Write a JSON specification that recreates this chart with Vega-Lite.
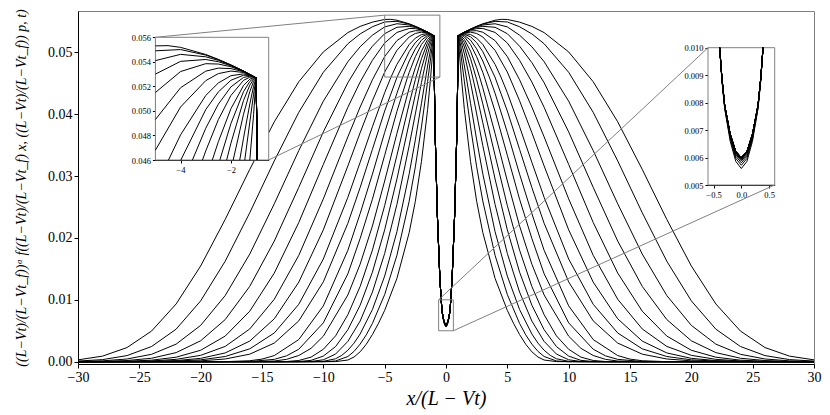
{
"$schema": "https://vega.github.io/schema/vega-lite/v6.json",
"width": 736, "height": 353,
"autosize": {"type": "none"},
"padding": {"left": 78, "top": 11, "right": 16, "bottom": 51},
"background": "white",
"config": {
 "font": "Liberation Serif",
 "view": {"stroke": "#808080", "strokeWidth": 1},
 "axis": {"grid": false, "domainColor": "black", "tickColor": "black", "labelColor": "black", "titleColor": "black", "labelFont": "Liberation Serif", "titleFont": "Liberation Serif", "tickSize": 4, "labelPadding": 2, "zindex": 1, "labelFlush": false, "labelOverlap": false, "domainWidth": 1, "tickWidth": 1}
},
"datasets": {
 "curves": [
{"c":1,"x":0,"y":0.0056},{"c":1,"x":-0.1,"y":0.00586},{"c":1,"x":0.1,"y":0.00586},{"c":1,"x":-0.2,"y":0.00659},{"c":1,"x":0.2,"y":0.00659},{"c":1,"x":-0.3,"y":0.00778},{"c":1,"x":0.3,"y":0.00778},{"c":1,"x":-0.35,"y":0.0088},{"c":1,"x":0.35,"y":0.0088},{"c":1,"x":-0.39,"y":0.01},{"c":1,"x":0.39,"y":0.01},{"c":1,"x":-0.5,"y":0.0135},{"c":1,"x":0.5,"y":0.0135},{"c":1,"x":-0.7,"y":0.0235},{"c":1,"x":0.7,"y":0.0235},{"c":1,"x":-0.9,"y":0.038},{"c":1,"x":0.9,"y":0.038},{"c":1,"x":-0.954,"y":0.046},{"c":1,"x":0.954,"y":0.046},{"c":1,"x":-1,"y":0.0527},{"c":1,"x":1,"y":0.0527},{"c":1,"x":-1.5,"y":0.05325},{"c":1,"x":1.5,"y":0.05325},{"c":1,"x":-2,"y":0.05375},{"c":1,"x":2,"y":0.05375},{"c":1,"x":-2.5,"y":0.0542},{"c":1,"x":2.5,"y":0.0542},{"c":1,"x":-3,"y":0.0546},{"c":1,"x":3,"y":0.0546},{"c":1,"x":-4,"y":0.05518},{"c":1,"x":4,"y":0.05518},{"c":1,"x":-4.5,"y":0.05532},{"c":1,"x":4.5,"y":0.05532},{"c":1,"x":-5,"y":0.0553},{"c":1,"x":5,"y":0.0553},{"c":1,"x":-6,"y":0.05487},{"c":1,"x":6,"y":0.05487},{"c":1,"x":-7,"y":0.05418},{"c":1,"x":7,"y":0.05418},{"c":1,"x":-8,"y":0.05318},{"c":1,"x":8,"y":0.05318},{"c":1,"x":-10,"y":0.05006},{"c":1,"x":10,"y":0.05006},{"c":1,"x":-12,"y":0.04524},{"c":1,"x":12,"y":0.04524},{"c":1,"x":-14,"y":0.03876},{"c":1,"x":14,"y":0.03876},{"c":1,"x":-16,"y":0.03107},{"c":1,"x":16,"y":0.03107},{"c":1,"x":-18,"y":0.02299},{"c":1,"x":18,"y":0.02299},{"c":1,"x":-20,"y":0.01547},{"c":1,"x":20,"y":0.01547},{"c":1,"x":-22,"y":0.00933},{"c":1,"x":22,"y":0.00933},{"c":1,"x":-24,"y":0.00496},{"c":1,"x":24,"y":0.00496},{"c":1,"x":-26,"y":0.00229},{"c":1,"x":26,"y":0.00229},{"c":1,"x":-28,"y":0.0009},{"c":1,"x":28,"y":0.0009},{"c":1,"x":-30,"y":0.0003},{"c":1,"x":30,"y":0.0003},
{"c":2,"x":0,"y":0.00572},{"c":2,"x":-0.1,"y":0.00597},{"c":2,"x":0.1,"y":0.00597},{"c":2,"x":-0.2,"y":0.00667},{"c":2,"x":0.2,"y":0.00667},{"c":2,"x":-0.3,"y":0.00782},{"c":2,"x":0.3,"y":0.00782},{"c":2,"x":-0.35,"y":0.00885},{"c":2,"x":0.35,"y":0.00885},{"c":2,"x":-0.39,"y":0.01},{"c":2,"x":0.39,"y":0.01},{"c":2,"x":-0.5,"y":0.0135},{"c":2,"x":0.5,"y":0.0135},{"c":2,"x":-0.7,"y":0.0235},{"c":2,"x":0.7,"y":0.0235},{"c":2,"x":-0.9,"y":0.038},{"c":2,"x":0.9,"y":0.038},{"c":2,"x":-0.954,"y":0.046},{"c":2,"x":0.954,"y":0.046},{"c":2,"x":-1,"y":0.0527},{"c":2,"x":1,"y":0.0527},{"c":2,"x":-1.5,"y":0.05325},{"c":2,"x":1.5,"y":0.05325},{"c":2,"x":-2,"y":0.05374},{"c":2,"x":2,"y":0.05374},{"c":2,"x":-2.5,"y":0.05418},{"c":2,"x":2.5,"y":0.05418},{"c":2,"x":-3,"y":0.05455},{"c":2,"x":3,"y":0.05455},{"c":2,"x":-4,"y":0.055},{"c":2,"x":4,"y":0.055},{"c":2,"x":-5,"y":0.0549},{"c":2,"x":5,"y":0.0549},{"c":2,"x":-6,"y":0.05412},{"c":2,"x":6,"y":0.05412},{"c":2,"x":-7,"y":0.05297},{"c":2,"x":7,"y":0.05297},{"c":2,"x":-8,"y":0.05138},{"c":2,"x":8,"y":0.05138},{"c":2,"x":-10,"y":0.04677},{"c":2,"x":10,"y":0.04677},{"c":2,"x":-12,"y":0.0403},{"c":2,"x":12,"y":0.0403},{"c":2,"x":-14,"y":0.03244},{"c":2,"x":14,"y":0.03244},{"c":2,"x":-16,"y":0.02406},{"c":2,"x":16,"y":0.02406},{"c":2,"x":-18,"y":0.01624},{"c":2,"x":18,"y":0.01624},{"c":2,"x":-20,"y":0.00983},{"c":2,"x":20,"y":0.00983},{"c":2,"x":-22,"y":0.00526},{"c":2,"x":22,"y":0.00526},{"c":2,"x":-24,"y":0.00246},{"c":2,"x":24,"y":0.00246},{"c":2,"x":-26,"y":0.00099},{"c":2,"x":26,"y":0.00099},{"c":2,"x":-28,"y":0.00034},{"c":2,"x":28,"y":0.00034},{"c":2,"x":-30,"y":0.0001},{"c":2,"x":30,"y":0.0001},
{"c":3,"x":0,"y":0.00581},{"c":3,"x":-0.1,"y":0.00605},{"c":3,"x":0.1,"y":0.00605},{"c":3,"x":-0.2,"y":0.00673},{"c":3,"x":0.2,"y":0.00673},{"c":3,"x":-0.3,"y":0.00784},{"c":3,"x":0.3,"y":0.00784},{"c":3,"x":-0.35,"y":0.00887},{"c":3,"x":0.35,"y":0.00887},{"c":3,"x":-0.39,"y":0.01},{"c":3,"x":0.39,"y":0.01},{"c":3,"x":-0.5,"y":0.0135},{"c":3,"x":0.5,"y":0.0135},{"c":3,"x":-0.7,"y":0.0235},{"c":3,"x":0.7,"y":0.0235},{"c":3,"x":-0.9,"y":0.038},{"c":3,"x":0.9,"y":0.038},{"c":3,"x":-0.954,"y":0.046},{"c":3,"x":0.954,"y":0.046},{"c":3,"x":-1,"y":0.0527},{"c":3,"x":1,"y":0.0527},{"c":3,"x":-1.5,"y":0.05325},{"c":3,"x":1.5,"y":0.05325},{"c":3,"x":-2,"y":0.05372},{"c":3,"x":2,"y":0.05372},{"c":3,"x":-2.5,"y":0.05412},{"c":3,"x":2.5,"y":0.05412},{"c":3,"x":-3,"y":0.05441},{"c":3,"x":3,"y":0.05441},{"c":3,"x":-4,"y":0.05461},{"c":3,"x":4,"y":0.05461},{"c":3,"x":-5,"y":0.0541},{"c":3,"x":5,"y":0.0541},{"c":3,"x":-6,"y":0.05276},{"c":3,"x":6,"y":0.05276},{"c":3,"x":-7,"y":0.05089},{"c":3,"x":7,"y":0.05089},{"c":3,"x":-8,"y":0.04848},{"c":3,"x":8,"y":0.04848},{"c":3,"x":-10,"y":0.0421},{"c":3,"x":10,"y":0.0421},{"c":3,"x":-12,"y":0.03412},{"c":3,"x":12,"y":0.03412},{"c":3,"x":-14,"y":0.02551},{"c":3,"x":14,"y":0.02551},{"c":3,"x":-16,"y":0.01739},{"c":3,"x":16,"y":0.01739},{"c":3,"x":-18,"y":0.01069},{"c":3,"x":18,"y":0.01069},{"c":3,"x":-20,"y":0.00587},{"c":3,"x":20,"y":0.00587},{"c":3,"x":-22,"y":0.00284},{"c":3,"x":22,"y":0.00284},{"c":3,"x":-24,"y":0.0012},{"c":3,"x":24,"y":0.0012},{"c":3,"x":-26,"y":0.00044},{"c":3,"x":26,"y":0.00044},{"c":3,"x":-28,"y":0.00014},{"c":3,"x":28,"y":0.00014},{"c":3,"x":-30,"y":0.00004},{"c":3,"x":30,"y":0.00004},
{"c":4,"x":0,"y":0.00588},{"c":4,"x":-0.1,"y":0.00611},{"c":4,"x":0.1,"y":0.00611},{"c":4,"x":-0.2,"y":0.00677},{"c":4,"x":0.2,"y":0.00677},{"c":4,"x":-0.3,"y":0.00786},{"c":4,"x":0.3,"y":0.00786},{"c":4,"x":-0.35,"y":0.00888},{"c":4,"x":0.35,"y":0.00888},{"c":4,"x":-0.39,"y":0.01},{"c":4,"x":0.39,"y":0.01},{"c":4,"x":-0.5,"y":0.0135},{"c":4,"x":0.5,"y":0.0135},{"c":4,"x":-0.7,"y":0.0235},{"c":4,"x":0.7,"y":0.0235},{"c":4,"x":-0.9,"y":0.038},{"c":4,"x":0.9,"y":0.038},{"c":4,"x":-0.954,"y":0.046},{"c":4,"x":0.954,"y":0.046},{"c":4,"x":-1,"y":0.0527},{"c":4,"x":1,"y":0.0527},{"c":4,"x":-1.5,"y":0.05324},{"c":4,"x":1.5,"y":0.05324},{"c":4,"x":-2,"y":0.05368},{"c":4,"x":2,"y":0.05368},{"c":4,"x":-2.5,"y":0.05401},{"c":4,"x":2.5,"y":0.05401},{"c":4,"x":-3,"y":0.05419},{"c":4,"x":3,"y":0.05419},{"c":4,"x":-4,"y":0.05404},{"c":4,"x":4,"y":0.05404},{"c":4,"x":-5,"y":0.053},{"c":4,"x":5,"y":0.053},{"c":4,"x":-6,"y":0.05098},{"c":4,"x":6,"y":0.05098},{"c":4,"x":-7,"y":0.04833},{"c":4,"x":7,"y":0.04833},{"c":4,"x":-8,"y":0.04508},{"c":4,"x":8,"y":0.04508},{"c":4,"x":-10,"y":0.03714},{"c":4,"x":10,"y":0.03714},{"c":4,"x":-12,"y":0.02818},{"c":4,"x":12,"y":0.02818},{"c":4,"x":-14,"y":0.01949},{"c":4,"x":14,"y":0.01949},{"c":4,"x":-16,"y":0.01217},{"c":4,"x":16,"y":0.01217},{"c":4,"x":-18,"y":0.00681},{"c":4,"x":18,"y":0.00681},{"c":4,"x":-20,"y":0.00338},{"c":4,"x":20,"y":0.00338},{"c":4,"x":-22,"y":0.00147},{"c":4,"x":22,"y":0.00147},{"c":4,"x":-24,"y":0.00056},{"c":4,"x":24,"y":0.00056},{"c":4,"x":-26,"y":0.00019},{"c":4,"x":26,"y":0.00019},{"c":4,"x":-28,"y":0.00005},{"c":4,"x":28,"y":0.00005},{"c":4,"x":-30,"y":0.00001},{"c":4,"x":30,"y":0.00001},
{"c":5,"x":0,"y":0.00592},{"c":5,"x":-0.1,"y":0.00615},{"c":5,"x":0.1,"y":0.00615},{"c":5,"x":-0.2,"y":0.0068},{"c":5,"x":0.2,"y":0.0068},{"c":5,"x":-0.3,"y":0.00788},{"c":5,"x":0.3,"y":0.00788},{"c":5,"x":-0.35,"y":0.00889},{"c":5,"x":0.35,"y":0.00889},{"c":5,"x":-0.39,"y":0.01},{"c":5,"x":0.39,"y":0.01},{"c":5,"x":-0.5,"y":0.0135},{"c":5,"x":0.5,"y":0.0135},{"c":5,"x":-0.7,"y":0.0235},{"c":5,"x":0.7,"y":0.0235},{"c":5,"x":-0.9,"y":0.038},{"c":5,"x":0.9,"y":0.038},{"c":5,"x":-0.954,"y":0.046},{"c":5,"x":0.954,"y":0.046},{"c":5,"x":-1,"y":0.0527},{"c":5,"x":1,"y":0.0527},{"c":5,"x":-1.5,"y":0.05322},{"c":5,"x":1.5,"y":0.05322},{"c":5,"x":-2,"y":0.0536},{"c":5,"x":2,"y":0.0536},{"c":5,"x":-2.5,"y":0.05382},{"c":5,"x":2.5,"y":0.05382},{"c":5,"x":-3,"y":0.05385},{"c":5,"x":3,"y":0.05385},{"c":5,"x":-4,"y":0.05321},{"c":5,"x":4,"y":0.05321},{"c":5,"x":-5,"y":0.0515},{"c":5,"x":5,"y":0.0515},{"c":5,"x":-6,"y":0.04869},{"c":5,"x":6,"y":0.04869},{"c":5,"x":-7,"y":0.04519},{"c":5,"x":7,"y":0.04519},{"c":5,"x":-8,"y":0.04111},{"c":5,"x":8,"y":0.04111},{"c":5,"x":-10,"y":0.03188},{"c":5,"x":10,"y":0.03188},{"c":5,"x":-12,"y":0.0225},{"c":5,"x":12,"y":0.0225},{"c":5,"x":-14,"y":0.01432},{"c":5,"x":14,"y":0.01432},{"c":5,"x":-16,"y":0.00816},{"c":5,"x":16,"y":0.00816},{"c":5,"x":-18,"y":0.00414},{"c":5,"x":18,"y":0.00414},{"c":5,"x":-20,"y":0.00185},{"c":5,"x":20,"y":0.00185},{"c":5,"x":-22,"y":0.00073},{"c":5,"x":22,"y":0.00073},{"c":5,"x":-24,"y":0.00025},{"c":5,"x":24,"y":0.00025},{"c":5,"x":-26,"y":0.00008},{"c":5,"x":26,"y":0.00008},{"c":5,"x":-28,"y":0.00002},{"c":5,"x":28,"y":0.00002},{"c":5,"x":-30,"y":0},{"c":5,"x":30,"y":0},
{"c":6,"x":0,"y":0.00595},{"c":6,"x":-0.1,"y":0.00618},{"c":6,"x":0.1,"y":0.00618},{"c":6,"x":-0.2,"y":0.00682},{"c":6,"x":0.2,"y":0.00682},{"c":6,"x":-0.3,"y":0.00789},{"c":6,"x":0.3,"y":0.00789},{"c":6,"x":-0.35,"y":0.0089},{"c":6,"x":0.35,"y":0.0089},{"c":6,"x":-0.39,"y":0.01},{"c":6,"x":0.39,"y":0.01},{"c":6,"x":-0.5,"y":0.0135},{"c":6,"x":0.5,"y":0.0135},{"c":6,"x":-0.7,"y":0.0235},{"c":6,"x":0.7,"y":0.0235},{"c":6,"x":-0.9,"y":0.038},{"c":6,"x":0.9,"y":0.038},{"c":6,"x":-0.954,"y":0.046},{"c":6,"x":0.954,"y":0.046},{"c":6,"x":-1,"y":0.0527},{"c":6,"x":1,"y":0.0527},{"c":6,"x":-1.5,"y":0.05319},{"c":6,"x":1.5,"y":0.05319},{"c":6,"x":-2,"y":0.05345},{"c":6,"x":2,"y":0.05345},{"c":6,"x":-2.5,"y":0.05349},{"c":6,"x":2.5,"y":0.05349},{"c":6,"x":-3,"y":0.05324},{"c":6,"x":3,"y":0.05324},{"c":6,"x":-4,"y":0.05189},{"c":6,"x":4,"y":0.05189},{"c":6,"x":-5,"y":0.0493},{"c":6,"x":5,"y":0.0493},{"c":6,"x":-6,"y":0.04555},{"c":6,"x":6,"y":0.04555},{"c":6,"x":-7,"y":0.04115},{"c":6,"x":7,"y":0.04115},{"c":6,"x":-8,"y":0.03633},{"c":6,"x":8,"y":0.03633},{"c":6,"x":-10,"y":0.02631},{"c":6,"x":10,"y":0.02631},{"c":6,"x":-12,"y":0.01719},{"c":6,"x":12,"y":0.01719},{"c":6,"x":-14,"y":0.01009},{"c":6,"x":14,"y":0.01009},{"c":6,"x":-16,"y":0.00529},{"c":6,"x":16,"y":0.00529},{"c":6,"x":-18,"y":0.00247},{"c":6,"x":18,"y":0.00247},{"c":6,"x":-20,"y":0.00103},{"c":6,"x":20,"y":0.00103},{"c":6,"x":-22,"y":0.00038},{"c":6,"x":22,"y":0.00038},{"c":6,"x":-24,"y":0.00012},{"c":6,"x":24,"y":0.00012},{"c":6,"x":-26,"y":0.00003},{"c":6,"x":26,"y":0.00003},{"c":6,"x":-30,"y":0},{"c":6,"x":30,"y":0},
{"c":7,"x":0,"y":0.00597},{"c":7,"x":-0.1,"y":0.0062},{"c":7,"x":0.1,"y":0.0062},{"c":7,"x":-0.2,"y":0.00684},{"c":7,"x":0.2,"y":0.00684},{"c":7,"x":-0.3,"y":0.0079},{"c":7,"x":0.3,"y":0.0079},{"c":7,"x":-0.35,"y":0.0089},{"c":7,"x":0.35,"y":0.0089},{"c":7,"x":-0.39,"y":0.01},{"c":7,"x":0.39,"y":0.01},{"c":7,"x":-0.5,"y":0.0135},{"c":7,"x":0.5,"y":0.0135},{"c":7,"x":-0.7,"y":0.0235},{"c":7,"x":0.7,"y":0.0235},{"c":7,"x":-0.9,"y":0.038},{"c":7,"x":0.9,"y":0.038},{"c":7,"x":-0.954,"y":0.046},{"c":7,"x":0.954,"y":0.046},{"c":7,"x":-1,"y":0.0527},{"c":7,"x":1,"y":0.0527},{"c":7,"x":-1.25,"y":0.05295},{"c":7,"x":1.25,"y":0.05295},{"c":7,"x":-1.5,"y":0.05313},{"c":7,"x":1.5,"y":0.05313},{"c":7,"x":-2,"y":0.05325},{"c":7,"x":2,"y":0.05325},{"c":7,"x":-2.5,"y":0.05304},{"c":7,"x":2.5,"y":0.05304},{"c":7,"x":-3,"y":0.05247},{"c":7,"x":3,"y":0.05247},{"c":7,"x":-4,"y":0.05032},{"c":7,"x":4,"y":0.05032},{"c":7,"x":-5,"y":0.0468},{"c":7,"x":5,"y":0.0468},{"c":7,"x":-6,"y":0.04216},{"c":7,"x":6,"y":0.04216},{"c":7,"x":-7,"y":0.037},{"c":7,"x":7,"y":0.037},{"c":7,"x":-8,"y":0.03163},{"c":7,"x":8,"y":0.03163},{"c":7,"x":-10,"y":0.02131},{"c":7,"x":10,"y":0.02131},{"c":7,"x":-12,"y":0.01286},{"c":7,"x":12,"y":0.01286},{"c":7,"x":-14,"y":0.00693},{"c":7,"x":14,"y":0.00693},{"c":7,"x":-16,"y":0.00333},{"c":7,"x":16,"y":0.00333},{"c":7,"x":-18,"y":0.00142},{"c":7,"x":18,"y":0.00142},{"c":7,"x":-20,"y":0.00054},{"c":7,"x":20,"y":0.00054},{"c":7,"x":-22,"y":0.00018},{"c":7,"x":22,"y":0.00018},{"c":7,"x":-24,"y":0.00006},{"c":7,"x":24,"y":0.00006},{"c":7,"x":-26,"y":0.00002},{"c":7,"x":26,"y":0.00002},{"c":7,"x":-30,"y":0},{"c":7,"x":30,"y":0},
{"c":8,"x":0,"y":0.00598},{"c":8,"x":-0.1,"y":0.0062},{"c":8,"x":0.1,"y":0.0062},{"c":8,"x":-0.2,"y":0.00684},{"c":8,"x":0.2,"y":0.00684},{"c":8,"x":-0.3,"y":0.0079},{"c":8,"x":0.3,"y":0.0079},{"c":8,"x":-0.35,"y":0.0089},{"c":8,"x":0.35,"y":0.0089},{"c":8,"x":-0.39,"y":0.01},{"c":8,"x":0.39,"y":0.01},{"c":8,"x":-0.5,"y":0.0135},{"c":8,"x":0.5,"y":0.0135},{"c":8,"x":-0.7,"y":0.0235},{"c":8,"x":0.7,"y":0.0235},{"c":8,"x":-0.9,"y":0.038},{"c":8,"x":0.9,"y":0.038},{"c":8,"x":-0.954,"y":0.046},{"c":8,"x":0.954,"y":0.046},{"c":8,"x":-1,"y":0.0527},{"c":8,"x":1,"y":0.0527},{"c":8,"x":-1.25,"y":0.05292},{"c":8,"x":1.25,"y":0.05292},{"c":8,"x":-1.5,"y":0.05302},{"c":8,"x":1.5,"y":0.05302},{"c":8,"x":-2,"y":0.05287},{"c":8,"x":2,"y":0.05287},{"c":8,"x":-2.5,"y":0.05228},{"c":8,"x":2.5,"y":0.05228},{"c":8,"x":-3,"y":0.05126},{"c":8,"x":3,"y":0.05126},{"c":8,"x":-4,"y":0.04805},{"c":8,"x":4,"y":0.04805},{"c":8,"x":-4.48,"y":0.046},{"c":8,"x":4.48,"y":0.046},{"c":8,"x":-5,"y":0.04347},{"c":8,"x":5,"y":0.04347},{"c":8,"x":-6,"y":0.03796},{"c":8,"x":6,"y":0.03796},{"c":8,"x":-7,"y":0.03221},{"c":8,"x":7,"y":0.03221},{"c":8,"x":-8,"y":0.02656},{"c":8,"x":8,"y":0.02656},{"c":8,"x":-10,"y":0.0166},{"c":8,"x":10,"y":0.0166},{"c":8,"x":-12,"y":0.00928},{"c":8,"x":12,"y":0.00928},{"c":8,"x":-14,"y":0.00464},{"c":8,"x":14,"y":0.00464},{"c":8,"x":-16,"y":0.00208},{"c":8,"x":16,"y":0.00208},{"c":8,"x":-18,"y":0.00084},{"c":8,"x":18,"y":0.00084},{"c":8,"x":-20,"y":0.0003},{"c":8,"x":20,"y":0.0003},{"c":8,"x":-22,"y":0.0001},{"c":8,"x":22,"y":0.0001},{"c":8,"x":-24,"y":0.00003},{"c":8,"x":24,"y":0.00003},{"c":8,"x":-30,"y":0},{"c":8,"x":30,"y":0},
{"c":9,"x":0,"y":0.006},{"c":9,"x":-0.1,"y":0.00622},{"c":9,"x":0.1,"y":0.00622},{"c":9,"x":-0.2,"y":0.00685},{"c":9,"x":0.2,"y":0.00685},{"c":9,"x":-0.3,"y":0.0079},{"c":9,"x":0.3,"y":0.0079},{"c":9,"x":-0.35,"y":0.0089},{"c":9,"x":0.35,"y":0.0089},{"c":9,"x":-0.39,"y":0.01},{"c":9,"x":0.39,"y":0.01},{"c":9,"x":-0.5,"y":0.0135},{"c":9,"x":0.5,"y":0.0135},{"c":9,"x":-0.7,"y":0.0235},{"c":9,"x":0.7,"y":0.0235},{"c":9,"x":-0.9,"y":0.038},{"c":9,"x":0.9,"y":0.038},{"c":9,"x":-0.954,"y":0.046},{"c":9,"x":0.954,"y":0.046},{"c":9,"x":-1,"y":0.0527},{"c":9,"x":1,"y":0.0527},{"c":9,"x":-1.1,"y":0.05279},{"c":9,"x":1.1,"y":0.05279},{"c":9,"x":-1.25,"y":0.05289},{"c":9,"x":1.25,"y":0.05289},{"c":9,"x":-1.5,"y":0.05291},{"c":9,"x":1.5,"y":0.05291},{"c":9,"x":-2,"y":0.0525},{"c":9,"x":2,"y":0.0525},{"c":9,"x":-2.5,"y":0.05155},{"c":9,"x":2.5,"y":0.05155},{"c":9,"x":-3,"y":0.05011},{"c":9,"x":3,"y":0.05011},{"c":9,"x":-3.99,"y":0.046},{"c":9,"x":3.99,"y":0.046},{"c":9,"x":-5,"y":0.0405},{"c":9,"x":5,"y":0.0405},{"c":9,"x":-6,"y":0.03431},{"c":9,"x":6,"y":0.03431},{"c":9,"x":-7,"y":0.02814},{"c":9,"x":7,"y":0.02814},{"c":9,"x":-8,"y":0.02237},{"c":9,"x":8,"y":0.02237},{"c":9,"x":-10,"y":0.0129},{"c":9,"x":10,"y":0.0129},{"c":9,"x":-12,"y":0.0066},{"c":9,"x":12,"y":0.0066},{"c":9,"x":-14,"y":0.00301},{"c":9,"x":14,"y":0.00301},{"c":9,"x":-16,"y":0.00122},{"c":9,"x":16,"y":0.00122},{"c":9,"x":-18,"y":0.00044},{"c":9,"x":18,"y":0.00044},{"c":9,"x":-20,"y":0.00014},{"c":9,"x":20,"y":0.00014},{"c":9,"x":-22,"y":0.00004},{"c":9,"x":22,"y":0.00004},{"c":9,"x":-30,"y":0},{"c":9,"x":30,"y":0},
{"c":10,"x":0,"y":0.006},{"c":10,"x":-0.1,"y":0.00622},{"c":10,"x":0.1,"y":0.00622},{"c":10,"x":-0.2,"y":0.00685},{"c":10,"x":0.2,"y":0.00685},{"c":10,"x":-0.3,"y":0.0079},{"c":10,"x":0.3,"y":0.0079},{"c":10,"x":-0.35,"y":0.0089},{"c":10,"x":0.35,"y":0.0089},{"c":10,"x":-0.39,"y":0.01},{"c":10,"x":0.39,"y":0.01},{"c":10,"x":-0.5,"y":0.0135},{"c":10,"x":0.5,"y":0.0135},{"c":10,"x":-0.7,"y":0.0235},{"c":10,"x":0.7,"y":0.0235},{"c":10,"x":-0.9,"y":0.038},{"c":10,"x":0.9,"y":0.038},{"c":10,"x":-0.954,"y":0.046},{"c":10,"x":0.954,"y":0.046},{"c":10,"x":-1,"y":0.0527},{"c":10,"x":1,"y":0.0527},{"c":10,"x":-1.1,"y":0.05278},{"c":10,"x":1.1,"y":0.05278},{"c":10,"x":-1.25,"y":0.05283},{"c":10,"x":1.25,"y":0.05283},{"c":10,"x":-1.5,"y":0.05273},{"c":10,"x":1.5,"y":0.05273},{"c":10,"x":-2,"y":0.05196},{"c":10,"x":2,"y":0.05196},{"c":10,"x":-2.5,"y":0.05055},{"c":10,"x":2.5,"y":0.05055},{"c":10,"x":-3,"y":0.04859},{"c":10,"x":3,"y":0.04859},{"c":10,"x":-3.53,"y":0.046},{"c":10,"x":3.53,"y":0.046},{"c":10,"x":-4,"y":0.04338},{"c":10,"x":4,"y":0.04338},{"c":10,"x":-5,"y":0.03705},{"c":10,"x":5,"y":0.03705},{"c":10,"x":-6,"y":0.0303},{"c":10,"x":6,"y":0.0303},{"c":10,"x":-7,"y":0.02393},{"c":10,"x":7,"y":0.02393},{"c":10,"x":-8,"y":0.018},{"c":10,"x":8,"y":0.018},{"c":10,"x":-10,"y":0.00902},{"c":10,"x":10,"y":0.00902},{"c":10,"x":-12,"y":0.00358},{"c":10,"x":12,"y":0.00358},{"c":10,"x":-14,"y":0.00099},{"c":10,"x":14,"y":0.00099},{"c":10,"x":-15,"y":0.00042},{"c":10,"x":15,"y":0.00042},{"c":10,"x":-16,"y":0.00016},{"c":10,"x":16,"y":0.00016},{"c":10,"x":-18,"y":0.00001},{"c":10,"x":18,"y":0.00001},{"c":10,"x":-30,"y":0},{"c":10,"x":30,"y":0},
{"c":11,"x":0,"y":0.006},{"c":11,"x":-0.1,"y":0.00622},{"c":11,"x":0.1,"y":0.00622},{"c":11,"x":-0.2,"y":0.00685},{"c":11,"x":0.2,"y":0.00685},{"c":11,"x":-0.3,"y":0.0079},{"c":11,"x":0.3,"y":0.0079},{"c":11,"x":-0.35,"y":0.0089},{"c":11,"x":0.35,"y":0.0089},{"c":11,"x":-0.39,"y":0.01},{"c":11,"x":0.39,"y":0.01},{"c":11,"x":-0.5,"y":0.0135},{"c":11,"x":0.5,"y":0.0135},{"c":11,"x":-0.7,"y":0.0235},{"c":11,"x":0.7,"y":0.0235},{"c":11,"x":-0.9,"y":0.038},{"c":11,"x":0.9,"y":0.038},{"c":11,"x":-0.954,"y":0.046},{"c":11,"x":0.954,"y":0.046},{"c":11,"x":-1,"y":0.0527},{"c":11,"x":1,"y":0.0527},{"c":11,"x":-1.1,"y":0.05276},{"c":11,"x":1.1,"y":0.05276},{"c":11,"x":-1.25,"y":0.05275},{"c":11,"x":1.25,"y":0.05275},{"c":11,"x":-1.5,"y":0.05249},{"c":11,"x":1.5,"y":0.05249},{"c":11,"x":-2,"y":0.05126},{"c":11,"x":2,"y":0.05126},{"c":11,"x":-2.5,"y":0.04929},{"c":11,"x":2.5,"y":0.04929},{"c":11,"x":-3,"y":0.04674},{"c":11,"x":3,"y":0.04674},{"c":11,"x":-3.13,"y":0.046},{"c":11,"x":3.13,"y":0.046},{"c":11,"x":-4,"y":0.04045},{"c":11,"x":4,"y":0.04045},{"c":11,"x":-5,"y":0.03335},{"c":11,"x":5,"y":0.03335},{"c":11,"x":-6,"y":0.02625},{"c":11,"x":6,"y":0.02625},{"c":11,"x":-7,"y":0.01991},{"c":11,"x":7,"y":0.01991},{"c":11,"x":-8,"y":0.0142},{"c":11,"x":8,"y":0.0142},{"c":11,"x":-10,"y":0.00628},{"c":11,"x":10,"y":0.00628},{"c":11,"x":-12,"y":0.00202},{"c":11,"x":12,"y":0.00202},{"c":11,"x":-13,"y":0.00095},{"c":11,"x":13,"y":0.00095},{"c":11,"x":-14,"y":0.00038},{"c":11,"x":14,"y":0.00038},{"c":11,"x":-16,"y":0.00003},{"c":11,"x":16,"y":0.00003},{"c":11,"x":-30,"y":0},{"c":11,"x":30,"y":0},
{"c":12,"x":0,"y":0.006},{"c":12,"x":-0.1,"y":0.00622},{"c":12,"x":0.1,"y":0.00622},{"c":12,"x":-0.2,"y":0.00685},{"c":12,"x":0.2,"y":0.00685},{"c":12,"x":-0.3,"y":0.0079},{"c":12,"x":0.3,"y":0.0079},{"c":12,"x":-0.35,"y":0.0089},{"c":12,"x":0.35,"y":0.0089},{"c":12,"x":-0.39,"y":0.01},{"c":12,"x":0.39,"y":0.01},{"c":12,"x":-0.5,"y":0.0135},{"c":12,"x":0.5,"y":0.0135},{"c":12,"x":-0.7,"y":0.0235},{"c":12,"x":0.7,"y":0.0235},{"c":12,"x":-0.9,"y":0.038},{"c":12,"x":0.9,"y":0.038},{"c":12,"x":-0.954,"y":0.046},{"c":12,"x":0.954,"y":0.046},{"c":12,"x":-1,"y":0.0527},{"c":12,"x":1,"y":0.0527},{"c":12,"x":-1.1,"y":0.05272},{"c":12,"x":1.1,"y":0.05272},{"c":12,"x":-1.25,"y":0.05259},{"c":12,"x":1.25,"y":0.05259},{"c":12,"x":-1.5,"y":0.05207},{"c":12,"x":1.5,"y":0.05207},{"c":12,"x":-2,"y":0.05018},{"c":12,"x":2,"y":0.05018},{"c":12,"x":-2.5,"y":0.04749},{"c":12,"x":2.5,"y":0.04749},{"c":12,"x":-2.74,"y":0.046},{"c":12,"x":2.74,"y":0.046},{"c":12,"x":-3,"y":0.04426},{"c":12,"x":3,"y":0.04426},{"c":12,"x":-4,"y":0.03688},{"c":12,"x":4,"y":0.03688},{"c":12,"x":-5,"y":0.0292},{"c":12,"x":5,"y":0.0292},{"c":12,"x":-6,"y":0.02192},{"c":12,"x":6,"y":0.02192},{"c":12,"x":-7,"y":0.01576},{"c":12,"x":7,"y":0.01576},{"c":12,"x":-8,"y":0.01078},{"c":12,"x":8,"y":0.01078},{"c":12,"x":-10,"y":0.00412},{"c":12,"x":10,"y":0.00412},{"c":12,"x":-11,"y":0.00216},{"c":12,"x":11,"y":0.00216},{"c":12,"x":-12,"y":0.00101},{"c":12,"x":12,"y":0.00101},{"c":12,"x":-13,"y":0.00038},{"c":12,"x":13,"y":0.00038},{"c":12,"x":-14,"y":0.00011},{"c":12,"x":14,"y":0.00011},{"c":12,"x":-16,"y":0},{"c":12,"x":16,"y":0},{"c":12,"x":-30,"y":0},{"c":12,"x":30,"y":0},
{"c":13,"x":0,"y":0.006},{"c":13,"x":-0.1,"y":0.00622},{"c":13,"x":0.1,"y":0.00622},{"c":13,"x":-0.2,"y":0.00685},{"c":13,"x":0.2,"y":0.00685},{"c":13,"x":-0.3,"y":0.0079},{"c":13,"x":0.3,"y":0.0079},{"c":13,"x":-0.35,"y":0.0089},{"c":13,"x":0.35,"y":0.0089},{"c":13,"x":-0.39,"y":0.01},{"c":13,"x":0.39,"y":0.01},{"c":13,"x":-0.5,"y":0.0135},{"c":13,"x":0.5,"y":0.0135},{"c":13,"x":-0.7,"y":0.0235},{"c":13,"x":0.7,"y":0.0235},{"c":13,"x":-0.9,"y":0.038},{"c":13,"x":0.9,"y":0.038},{"c":13,"x":-0.954,"y":0.046},{"c":13,"x":0.954,"y":0.046},{"c":13,"x":-1,"y":0.0527},{"c":13,"x":1,"y":0.0527},{"c":13,"x":-1.1,"y":0.05267},{"c":13,"x":1.1,"y":0.05267},{"c":13,"x":-1.25,"y":0.0524},{"c":13,"x":1.25,"y":0.0524},{"c":13,"x":-1.5,"y":0.05157},{"c":13,"x":1.5,"y":0.05157},{"c":13,"x":-2,"y":0.04897},{"c":13,"x":2,"y":0.04897},{"c":13,"x":-2.44,"y":0.046},{"c":13,"x":2.44,"y":0.046},{"c":13,"x":-2.5,"y":0.04556},{"c":13,"x":2.5,"y":0.04556},{"c":13,"x":-3,"y":0.04167},{"c":13,"x":3,"y":0.04167},{"c":13,"x":-4,"y":0.03336},{"c":13,"x":4,"y":0.03336},{"c":13,"x":-5,"y":0.02522},{"c":13,"x":5,"y":0.02522},{"c":13,"x":-6,"y":0.01802},{"c":13,"x":6,"y":0.01802},{"c":13,"x":-7,"y":0.01216},{"c":13,"x":7,"y":0.01216},{"c":13,"x":-8,"y":0.0076},{"c":13,"x":8,"y":0.0076},{"c":13,"x":-9,"y":0.00418},{"c":13,"x":9,"y":0.00418},{"c":13,"x":-10,"y":0.00201},{"c":13,"x":10,"y":0.00201},{"c":13,"x":-11,"y":0.00074},{"c":13,"x":11,"y":0.00074},{"c":13,"x":-12,"y":0.0002},{"c":13,"x":12,"y":0.0002},{"c":13,"x":-13,"y":0.00003},{"c":13,"x":13,"y":0.00003},{"c":13,"x":-14,"y":0},{"c":13,"x":14,"y":0},{"c":13,"x":-30,"y":0},{"c":13,"x":30,"y":0},
{"c":14,"x":0,"y":0.006},{"c":14,"x":-0.1,"y":0.00622},{"c":14,"x":0.1,"y":0.00622},{"c":14,"x":-0.2,"y":0.00685},{"c":14,"x":0.2,"y":0.00685},{"c":14,"x":-0.3,"y":0.0079},{"c":14,"x":0.3,"y":0.0079},{"c":14,"x":-0.35,"y":0.0089},{"c":14,"x":0.35,"y":0.0089},{"c":14,"x":-0.39,"y":0.01},{"c":14,"x":0.39,"y":0.01},{"c":14,"x":-0.5,"y":0.0135},{"c":14,"x":0.5,"y":0.0135},{"c":14,"x":-0.7,"y":0.0235},{"c":14,"x":0.7,"y":0.0235},{"c":14,"x":-0.9,"y":0.038},{"c":14,"x":0.9,"y":0.038},{"c":14,"x":-0.954,"y":0.046},{"c":14,"x":0.954,"y":0.046},{"c":14,"x":-1,"y":0.0527},{"c":14,"x":1,"y":0.0527},{"c":14,"x":-1.1,"y":0.05258},{"c":14,"x":1.1,"y":0.05258},{"c":14,"x":-1.25,"y":0.0521},{"c":14,"x":1.25,"y":0.0521},{"c":14,"x":-1.5,"y":0.05085},{"c":14,"x":1.5,"y":0.05085},{"c":14,"x":-2,"y":0.04737},{"c":14,"x":2,"y":0.04737},{"c":14,"x":-2.17,"y":0.046},{"c":14,"x":2.17,"y":0.046},{"c":14,"x":-2.5,"y":0.04315},{"c":14,"x":2.5,"y":0.04315},{"c":14,"x":-3,"y":0.03862},{"c":14,"x":3,"y":0.03862},{"c":14,"x":-4,"y":0.02952},{"c":14,"x":4,"y":0.02952},{"c":14,"x":-5,"y":0.02131},{"c":14,"x":5,"y":0.02131},{"c":14,"x":-6,"y":0.01446},{"c":14,"x":6,"y":0.01446},{"c":14,"x":-7,"y":0.00913},{"c":14,"x":7,"y":0.00913},{"c":14,"x":-8,"y":0.00517},{"c":14,"x":8,"y":0.00517},{"c":14,"x":-9,"y":0.00245},{"c":14,"x":9,"y":0.00245},{"c":14,"x":-10,"y":0.00091},{"c":14,"x":10,"y":0.00091},{"c":14,"x":-11,"y":0.00022},{"c":14,"x":11,"y":0.00022},{"c":14,"x":-12,"y":0.00003},{"c":14,"x":12,"y":0.00003},{"c":14,"x":-13,"y":0},{"c":14,"x":13,"y":0},{"c":14,"x":-30,"y":0},{"c":14,"x":30,"y":0},
{"c":15,"x":0,"y":0.006},{"c":15,"x":-0.1,"y":0.00622},{"c":15,"x":0.1,"y":0.00622},{"c":15,"x":-0.2,"y":0.00685},{"c":15,"x":0.2,"y":0.00685},{"c":15,"x":-0.3,"y":0.0079},{"c":15,"x":0.3,"y":0.0079},{"c":15,"x":-0.35,"y":0.0089},{"c":15,"x":0.35,"y":0.0089},{"c":15,"x":-0.39,"y":0.01},{"c":15,"x":0.39,"y":0.01},{"c":15,"x":-0.5,"y":0.0135},{"c":15,"x":0.5,"y":0.0135},{"c":15,"x":-0.7,"y":0.0235},{"c":15,"x":0.7,"y":0.0235},{"c":15,"x":-0.9,"y":0.038},{"c":15,"x":0.9,"y":0.038},{"c":15,"x":-0.954,"y":0.046},{"c":15,"x":0.954,"y":0.046},{"c":15,"x":-1,"y":0.0527},{"c":15,"x":1,"y":0.0527},{"c":15,"x":-1.1,"y":0.0524},{"c":15,"x":1.1,"y":0.0524},{"c":15,"x":-1.25,"y":0.05158},{"c":15,"x":1.25,"y":0.05158},{"c":15,"x":-1.5,"y":0.04973},{"c":15,"x":1.5,"y":0.04973},{"c":15,"x":-1.91,"y":0.046},{"c":15,"x":1.91,"y":0.046},{"c":15,"x":-2,"y":0.04512},{"c":15,"x":2,"y":0.04512},{"c":15,"x":-2.5,"y":0.04004},{"c":15,"x":2.5,"y":0.04004},{"c":15,"x":-3,"y":0.03492},{"c":15,"x":3,"y":0.03492},{"c":15,"x":-4,"y":0.02542},{"c":15,"x":4,"y":0.02542},{"c":15,"x":-5,"y":0.01749},{"c":15,"x":5,"y":0.01749},{"c":15,"x":-6,"y":0.01124},{"c":15,"x":6,"y":0.01124},{"c":15,"x":-7,"y":0.00657},{"c":15,"x":7,"y":0.00657},{"c":15,"x":-8,"y":0.00328},{"c":15,"x":8,"y":0.00328},{"c":15,"x":-9,"y":0.00124},{"c":15,"x":9,"y":0.00124},{"c":15,"x":-10,"y":0.00031},{"c":15,"x":10,"y":0.00031},{"c":15,"x":-11,"y":0.00004},{"c":15,"x":11,"y":0.00004},{"c":15,"x":-12,"y":0},{"c":15,"x":12,"y":0},{"c":15,"x":-30,"y":0},{"c":15,"x":30,"y":0},
{"c":16,"x":0,"y":0.006},{"c":16,"x":-0.1,"y":0.00622},{"c":16,"x":0.1,"y":0.00622},{"c":16,"x":-0.2,"y":0.00685},{"c":16,"x":0.2,"y":0.00685},{"c":16,"x":-0.3,"y":0.0079},{"c":16,"x":0.3,"y":0.0079},{"c":16,"x":-0.35,"y":0.0089},{"c":16,"x":0.35,"y":0.0089},{"c":16,"x":-0.39,"y":0.01},{"c":16,"x":0.39,"y":0.01},{"c":16,"x":-0.5,"y":0.0135},{"c":16,"x":0.5,"y":0.0135},{"c":16,"x":-0.7,"y":0.0235},{"c":16,"x":0.7,"y":0.0235},{"c":16,"x":-0.9,"y":0.038},{"c":16,"x":0.9,"y":0.038},{"c":16,"x":-0.954,"y":0.046},{"c":16,"x":0.954,"y":0.046},{"c":16,"x":-1,"y":0.0527},{"c":16,"x":1,"y":0.0527},{"c":16,"x":-1.1,"y":0.05201},{"c":16,"x":1.1,"y":0.05201},{"c":16,"x":-1.25,"y":0.05057},{"c":16,"x":1.25,"y":0.05057},{"c":16,"x":-1.5,"y":0.04778},{"c":16,"x":1.5,"y":0.04778},{"c":16,"x":-1.65,"y":0.046},{"c":16,"x":1.65,"y":0.046},{"c":16,"x":-2,"y":0.04176},{"c":16,"x":2,"y":0.04176},{"c":16,"x":-2.5,"y":0.03585},{"c":16,"x":2.5,"y":0.03585},{"c":16,"x":-3,"y":0.03036},{"c":16,"x":3,"y":0.03036},{"c":16,"x":-4,"y":0.02101},{"c":16,"x":4,"y":0.02101},{"c":16,"x":-5,"y":0.01383},{"c":16,"x":5,"y":0.01383},{"c":16,"x":-6,"y":0.00842},{"c":16,"x":6,"y":0.00842},{"c":16,"x":-7,"y":0.00448},{"c":16,"x":7,"y":0.00448},{"c":16,"x":-7.5,"y":0.003},{"c":16,"x":7.5,"y":0.003},{"c":16,"x":-8,"y":0.00185},{"c":16,"x":8,"y":0.00185},{"c":16,"x":-8.5,"y":0.00102},{"c":16,"x":8.5,"y":0.00102},{"c":16,"x":-9,"y":0.00048},{"c":16,"x":9,"y":0.00048},{"c":16,"x":-10,"y":0.00006},{"c":16,"x":10,"y":0.00006},{"c":16,"x":-11,"y":0},{"c":16,"x":11,"y":0},{"c":16,"x":-30,"y":0},{"c":16,"x":30,"y":0},
{"c":17,"x":0,"y":0.006},{"c":17,"x":-0.1,"y":0.00622},{"c":17,"x":0.1,"y":0.00622},{"c":17,"x":-0.2,"y":0.00685},{"c":17,"x":0.2,"y":0.00685},{"c":17,"x":-0.3,"y":0.0079},{"c":17,"x":0.3,"y":0.0079},{"c":17,"x":-0.35,"y":0.0089},{"c":17,"x":0.35,"y":0.0089},{"c":17,"x":-0.39,"y":0.01},{"c":17,"x":0.39,"y":0.01},{"c":17,"x":-0.5,"y":0.0135},{"c":17,"x":0.5,"y":0.0135},{"c":17,"x":-0.7,"y":0.0235},{"c":17,"x":0.7,"y":0.0235},{"c":17,"x":-0.9,"y":0.038},{"c":17,"x":0.9,"y":0.038},{"c":17,"x":-0.954,"y":0.046},{"c":17,"x":0.954,"y":0.046},{"c":17,"x":-1,"y":0.0527},{"c":17,"x":1,"y":0.0527},{"c":17,"x":-1.1,"y":0.05136},{"c":17,"x":1.1,"y":0.05136},{"c":17,"x":-1.25,"y":0.04909},{"c":17,"x":1.25,"y":0.04909},{"c":17,"x":-1.45,"y":0.046},{"c":17,"x":1.45,"y":0.046},{"c":17,"x":-1.5,"y":0.04524},{"c":17,"x":1.5,"y":0.04524},{"c":17,"x":-2,"y":0.03794},{"c":17,"x":2,"y":0.03794},{"c":17,"x":-2.5,"y":0.03149},{"c":17,"x":2.5,"y":0.03149},{"c":17,"x":-3,"y":0.02595},{"c":17,"x":3,"y":0.02595},{"c":17,"x":-4,"y":0.01719},{"c":17,"x":4,"y":0.01719},{"c":17,"x":-5,"y":0.01085},{"c":17,"x":5,"y":0.01085},{"c":17,"x":-6,"y":0.00618},{"c":17,"x":6,"y":0.00618},{"c":17,"x":-6.5,"y":0.00434},{"c":17,"x":6.5,"y":0.00434},{"c":17,"x":-7,"y":0.00284},{"c":17,"x":7,"y":0.00284},{"c":17,"x":-7.5,"y":0.00166},{"c":17,"x":7.5,"y":0.00166},{"c":17,"x":-8,"y":0.00084},{"c":17,"x":8,"y":0.00084},{"c":17,"x":-9,"y":0.00012},{"c":17,"x":9,"y":0.00012},{"c":17,"x":-10,"y":0},{"c":17,"x":10,"y":0},{"c":17,"x":-30,"y":0},{"c":17,"x":30,"y":0},
{"c":18,"x":0,"y":0.006},{"c":18,"x":-0.1,"y":0.00622},{"c":18,"x":0.1,"y":0.00622},{"c":18,"x":-0.2,"y":0.00685},{"c":18,"x":0.2,"y":0.00685},{"c":18,"x":-0.3,"y":0.0079},{"c":18,"x":0.3,"y":0.0079},{"c":18,"x":-0.35,"y":0.0089},{"c":18,"x":0.35,"y":0.0089},{"c":18,"x":-0.39,"y":0.01},{"c":18,"x":0.39,"y":0.01},{"c":18,"x":-0.5,"y":0.0135},{"c":18,"x":0.5,"y":0.0135},{"c":18,"x":-0.7,"y":0.0235},{"c":18,"x":0.7,"y":0.0235},{"c":18,"x":-0.9,"y":0.038},{"c":18,"x":0.9,"y":0.038},{"c":18,"x":-0.954,"y":0.046},{"c":18,"x":0.954,"y":0.046},{"c":18,"x":-1,"y":0.0527},{"c":18,"x":1,"y":0.0527},{"c":18,"x":-1.1,"y":0.0497},{"c":18,"x":1.1,"y":0.0497},{"c":18,"x":-1.25,"y":0.046},{"c":18,"x":1.25,"y":0.046},{"c":18,"x":-1.5,"y":0.04074},{"c":18,"x":1.5,"y":0.04074},{"c":18,"x":-2,"y":0.03235},{"c":18,"x":2,"y":0.03235},{"c":18,"x":-2.5,"y":0.02592},{"c":18,"x":2.5,"y":0.02592},{"c":18,"x":-3,"y":0.02087},{"c":18,"x":3,"y":0.02087},{"c":18,"x":-4,"y":0.01346},{"c":18,"x":4,"y":0.01346},{"c":18,"x":-5,"y":0.00829},{"c":18,"x":5,"y":0.00829},{"c":18,"x":-5.5,"y":0.00622},{"c":18,"x":5.5,"y":0.00622},{"c":18,"x":-6,"y":0.00438},{"c":18,"x":6,"y":0.00438},{"c":18,"x":-6.5,"y":0.00282},{"c":18,"x":6.5,"y":0.00282},{"c":18,"x":-7,"y":0.0016},{"c":18,"x":7,"y":0.0016},{"c":18,"x":-7.5,"y":0.00075},{"c":18,"x":7.5,"y":0.00075},{"c":18,"x":-8,"y":0.00027},{"c":18,"x":8,"y":0.00027},{"c":18,"x":-9,"y":0.00002},{"c":18,"x":9,"y":0.00002},{"c":18,"x":-10,"y":0},{"c":18,"x":10,"y":0},{"c":18,"x":-30,"y":0},{"c":18,"x":30,"y":0}
 ],
 "boxes": [
  {"b":1,"x":-5,"x2":-0.5,"y":0.046,"y2":0.056},
  {"b":2,"x":-0.6,"x2":0.6,"y":0.005,"y2":0.01}
 ],
 "conn": [
  {"x":-23.69,"y":0.05242,"x2":-5,"y2":0.056},
  {"x":-14.45,"y":0.0326,"x2":-0.5,"y2":0.046},
  {"x":21.36,"y":0.05074,"x2":-0.6,"y2":0.01},
  {"x":26.79,"y":0.02856,"x2":0.6,"y2":0.005}
 ]
},
"resolve": {"scale": {"x": "independent", "y": "independent"}, "axis": {"x": "independent", "y": "independent"}},
"layer": [
 {
  "layer": [
   {
    "data": {"name": "curves"},
    "mark": {"type": "line", "color": "black", "strokeWidth": 1},
    "encoding": {
     "x": {"field": "x", "type": "quantitative", "scale": {"domain": [-30, 30], "nice": false, "zero": false},
       "axis": {"orient": "bottom", "values": [-30,-25,-20,-15,-10,-5,0,5,10,15,20,25,30], "format": "d", "labelFontSize": 14, "title": "x/(L − Vt)", "titleFontSize": 20, "titleFontStyle": "italic", "titleFontWeight": "normal", "titlePadding": 4}},
     "y": {"field": "y", "type": "quantitative", "scale": {"domain": [-0.00037, 0.05667], "nice": false, "zero": false},
       "axis": {"orient": "left", "values": [0,0.01,0.02,0.03,0.04,0.05], "format": ".2f", "labelFontSize": 14, "title": "((L−Vt)/(L−Vt_f))ᵅ f((L−Vt)/(L−Vt_f) x, ((L−Vt)/(L−Vt_f)) p, t)", "titleFontSize": 14, "titleFontStyle": "italic", "titleFontWeight": "normal", "titlePadding": 19}},
     "detail": {"field": "c", "type": "nominal"}
    }
   },
   {
    "data": {"name": "boxes"},
    "mark": {"type": "rect", "fill": null, "fillOpacity": 0, "stroke": "#808080", "strokeWidth": 1},
    "encoding": {
     "x": {"field": "x", "type": "quantitative"}, "x2": {"field": "x2"},
     "y": {"field": "y", "type": "quantitative"}, "y2": {"field": "y2"}
    }
   },
   {
    "data": {"name": "conn"},
    "mark": {"type": "rule", "color": "#808080", "strokeWidth": 1},
    "encoding": {
     "x": {"field": "x", "type": "quantitative"}, "x2": {"field": "x2"},
     "y": {"field": "y", "type": "quantitative"}, "y2": {"field": "y2"}
    }
   }
  ]
 },
 {
  "layer": [
   {
    "data": {"name": "boxes"},
    "transform": [{"filter": "datum.b == 1"}],
    "mark": {"type": "rect", "fill": "white", "stroke": "#808080", "strokeWidth": 1},
    "encoding": {
     "x": {"field": "x", "type": "quantitative", "scale": {"domain": [-5, -0.5], "range": [77.4, 190.7], "nice": false, "zero": false},
       "axis": {"orient": "bottom", "offset": -204, "values": [-4, -2], "format": "d", "labelFontSize": 8.5, "tickSize": 3, "title": null}},
     "x2": {"field": "x2"},
     "y": {"field": "y", "type": "quantitative", "scale": {"domain": [0.046, 0.056], "range": [149, 26.3], "nice": false, "zero": false},
       "axis": {"orient": "left", "offset": -77.4, "values": [0.046,0.048,0.05,0.052,0.054,0.056], "format": ".3f", "labelFontSize": 8.5, "tickSize": 3, "title": null}},
     "y2": {"field": "y2"}
    }
   },
   {
    "data": {"name": "curves"},
    "transform": [{"filter": "datum.x >= -5 && datum.x <= -0.5 && datum.y >= 0.046"}],
    "mark": {"type": "line", "color": "black", "strokeWidth": 1},
    "encoding": {
     "x": {"field": "x", "type": "quantitative"},
     "y": {"field": "y", "type": "quantitative"},
     "detail": {"field": "c", "type": "nominal"}
    }
   }
  ]
 },
 {
  "layer": [
   {
    "data": {"name": "boxes"},
    "transform": [{"filter": "datum.b == 2"}],
    "mark": {"type": "rect", "fill": "white", "stroke": "#808080", "strokeWidth": 1},
    "encoding": {
     "x": {"field": "x", "type": "quantitative", "scale": {"domain": [-0.6, 0.6], "range": [630, 696.7], "nice": false, "zero": false},
       "axis": {"orient": "bottom", "offset": -179, "values": [-0.5, 0, 0.5], "format": ".1f", "labelFontSize": 8.5, "tickSize": 3, "title": null}},
     "x2": {"field": "x2"},
     "y": {"field": "y", "type": "quantitative", "scale": {"domain": [0.005, 0.01], "range": [174, 36.7], "nice": false, "zero": false},
       "axis": {"orient": "left", "offset": -630, "values": [0.005,0.006,0.007,0.008,0.009,0.01], "format": ".3f", "labelFontSize": 8.5, "tickSize": 3, "title": null}},
     "y2": {"field": "y2"}
    }
   },
   {
    "data": {"name": "curves"},
    "transform": [{"filter": "datum.x >= -0.6 && datum.x <= 0.6 && datum.y <= 0.01"}],
    "mark": {"type": "line", "color": "black", "strokeWidth": 1},
    "encoding": {
     "x": {"field": "x", "type": "quantitative"},
     "y": {"field": "y", "type": "quantitative"},
     "detail": {"field": "c", "type": "nominal"}
    }
   }
  ]
 }
]
}
